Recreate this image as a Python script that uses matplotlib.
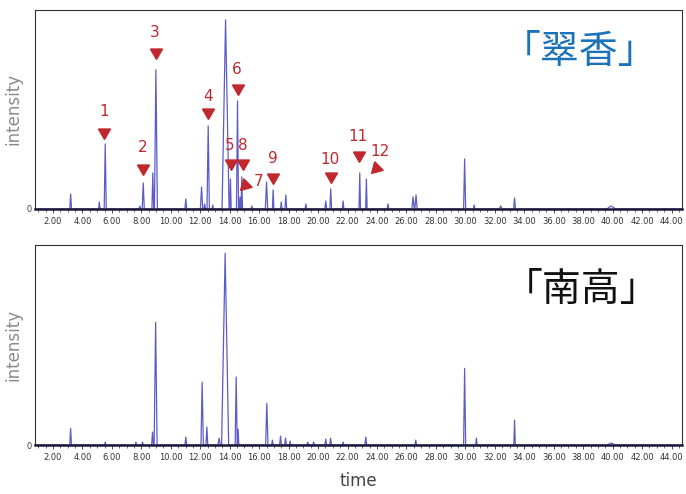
import matplotlib
matplotlib.use("Agg")
import matplotlib.pyplot as plt
from matplotlib.ticker import MultipleLocator, FormatStrFormatter

# peaks: retention time (min), height, half-width
top_times = [3.2, 5.15, 5.55, 7.9, 8.13, 8.78, 8.99, 11.02, 12.09, 12.3, 12.54, 12.85,
             13.72, 14.05, 14.53, 14.7, 14.82, 15.5, 16.5, 16.95, 17.5, 17.81, 19.17,
             20.52, 20.86, 21.7, 22.83, 23.28, 24.75, 26.45, 26.65, 29.95, 30.6, 32.4,
             33.34, 39.9]
top_heights = [15, 7, 65, 3, 26, 36, 139, 10, 22, 5, 83, 4,
               189, 30, 108, 12, 32, 3, 27, 19, 7, 14, 5,
               8, 20, 8, 36, 30, 5, 12, 14, 50, 4, 3,
               11, 3]
top_widths = [0.06, 0.05, 0.07, 0.05, 0.07, 0.06, 0.1, 0.06, 0.08, 0.05, 0.08, 0.05,
              0.24, 0.05, 0.07, 0.05, 0.05, 0.05, 0.08, 0.05, 0.05, 0.06, 0.05,
              0.06, 0.06, 0.05, 0.05, 0.05, 0.06, 0.08, 0.08, 0.07, 0.05, 0.1,
              0.06, 0.3]

bot_times = [3.2, 5.55, 7.63, 8.08, 8.76, 8.97, 11.02, 12.13, 12.45, 13.28, 13.69,
             14.44, 14.57, 16.52, 16.9, 17.45, 17.79, 18.1, 19.3, 19.7, 20.52, 20.85,
             21.7, 23.24, 26.63, 29.95, 30.75, 33.34, 39.9]
bot_heights = [16.7, 3, 3, 3, 13, 122.7, 8, 63, 18, 7, 191.7,
               68, 16, 41.7, 5, 9, 7, 4, 3, 3, 6, 7,
               3, 8, 5, 76.7, 7, 25, 2]
bot_widths = [0.06, 0.05, 0.05, 0.05, 0.06, 0.1, 0.06, 0.08, 0.06, 0.08, 0.24,
              0.07, 0.05, 0.08, 0.05, 0.06, 0.06, 0.05, 0.05, 0.05, 0.06, 0.06,
              0.05, 0.06, 0.06, 0.07, 0.05, 0.05, 0.3]

# numbered compounds: label, marker (t, y), text (t, y), marker rotation
peak_labels = ["1", "2", "3", "4", "5", "6", "7", "8", "9", "10", "11", "12"]
marker_pos = [(5.48, 77), (8.13, 41), (8.99, 157), (12.54, 97), (14.06, 46), (14.53, 121),
              (15.03, 24), (14.91, 46), (16.95, 32), (20.86, 33), (22.76, 54), (23.96, 41)]
text_pos = [(5.48, 97), (8.1, 61), (8.92, 176), (12.54, 112), (14.02, 63), (14.5, 139),
            (15.93, 27), (14.87, 63), (16.91, 50), (20.79, 49), (22.71, 72), (24.23, 57)]
marker_rot = [180, 180, 180, 180, 180, 180, 135, 180, 180, 180, 180, 135]

LINE = "#5c5cc8"
RED = "#c0282d"


def trace(times, heights, widths):
    pts = []
    for t, h, w in zip(times, heights, widths):
        pts.append((t - w, 0.0))
        pts.append((t, h))
        pts.append((t + w, 0.0))
    pts.sort(key=lambda p: p[0])
    xs = [0.78] + [p[0] for p in pts] + [44.7]
    ys = [0.0] + [p[1] for p in pts] + [0.0]
    return xs, ys


def style_axis(ax, ymax):
    ax.set_xlim(0.78, 44.7)
    ax.set_ylim(0, ymax)
    ax.xaxis.set_minor_locator(MultipleLocator(0.5))
    ax.xaxis.set_major_formatter(FormatStrFormatter("%.2f"))
    ax.set_xticks([v for v in range(2, 45, 2)])
    ax.tick_params(axis="x", which="major", labelsize=6, colors="#333333", length=3, width=0.6, pad=3)
    ax.tick_params(axis="x", which="minor", length=2, width=0.5, color="#333333")
    ax.set_yticks([0])
    ax.tick_params(axis="y", labelsize=6, colors="#444444", length=0, pad=2)
    for side in ["top", "right", "left"]:
        ax.spines[side].set_linewidth(0.8)
        ax.spines[side].set_color("#333333")
    ax.spines["bottom"].set_linewidth(1.8)
    ax.spines["bottom"].set_color("#1a1a3a")
    ax.set_ylabel("intensity", fontsize=12, color="#8a8a8a", labelpad=3)


fig = plt.figure(figsize=(6.86, 4.94), dpi=100)
ax1 = fig.add_axes([0.051, 0.577, 0.943, 0.403])
ax2 = fig.add_axes([0.051, 0.099, 0.943, 0.405])

x, y = trace(top_times, top_heights, top_widths)
ax1.plot(x, y, color=LINE, linewidth=0.9)
style_axis(ax1, 199)

for lab, (mt, my), (tt, ty), rot in zip(peak_labels, marker_pos, text_pos, marker_rot):
    ax1.plot(mt, my, marker=(3, 0, rot), markersize=10, color=RED, linestyle="none")
    ax1.text(tt, ty, lab, color=RED, fontsize=11, ha="center", va="center")

ax1.text(0.842, 0.79, "「翠香」", transform=ax1.transAxes, fontsize=28, color="#1b72b8",
         ha="center", va="center", family=["Noto Sans CJK JP", "DejaVu Sans"])

x, y = trace(bot_times, bot_heights, bot_widths)
ax2.plot(x, y, color=LINE, linewidth=0.9)
style_axis(ax2, 200)
ax2.text(0.845, 0.775, "「南高」", transform=ax2.transAxes, fontsize=28, color="#111111",
         ha="center", va="center", family=["Noto Sans CJK JP", "DejaVu Sans"])
ax2.set_xlabel("time", fontsize=12, color="#444444", labelpad=7)

fig.savefig("out.png", dpi=100)
